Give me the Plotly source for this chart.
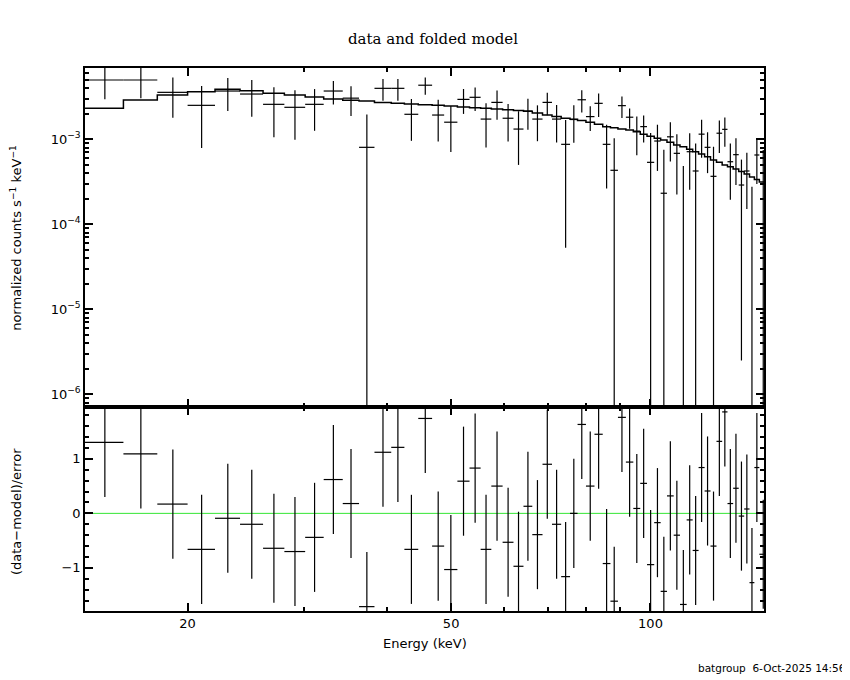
import plotly.graph_objects as go

# channel boundaries (keV)
edges = [14.0, 16.0, 18.0, 20.0, 22.0, 24.0, 26.0, 28.0, 30.1, 32.1,
         34.3, 36.3, 38.3, 40.6, 42.5, 44.6, 46.8, 48.8, 51.1, 53.3,
         55.4, 57.5, 59.8, 62.1, 64.3, 66.3, 68.7, 71.0, 73.3, 75.6,
         77.6, 79.9, 82.3, 84.7, 87.0, 89.3, 91.8, 94.2, 96.5, 98.8,
         101.3, 103.6, 105.9, 108.4, 110.8, 113.4, 115.8, 118.2, 120.7, 123.2,
         125.8, 128.3, 130.7, 133.3, 135.9, 138.5, 141.1, 143.5, 146.0, 150.0]

# normalized counts s^-1 keV^-1
rate = [4.99e-3, 4.99e-3, 3.57e-3, 2.51e-3, 3.70e-3, 3.41e-3, 2.58e-3, 2.38e-3, 2.58e-3, 3.70e-3,
        3.05e-3, 8.05e-4, 3.98e-3, 3.98e-3, 1.97e-3, 4.33e-3, 1.93e-3, 1.59e-3, 2.95e-3, 3.12e-3,
        1.73e-3, 2.72e-3, 1.77e-3, 1.32e-3, 2.15e-3, 1.73e-3, 2.72e-3, 1.73e-3, 8.73e-4, 1.71e-3,
        2.92e-3, 1.85e-3, 2.65e-3, 8.73e-4, 4.32e-4, 2.49e-3, 1.82e-3, 1.25e-3, 1.41e-3, 5.36e-4,
        9.55e-4, 2.32e-4, 1.07e-3, 6.84e-4, -1.5e-5, 7.15e-4, 4.24e-4, 1.15e-3, 8.05e-4, 3.67e-4,
        1.18e-3, 1.31e-3, 5.45e-4, 6.60e-4, 2.90e-4, 4.24e-4, -3.0e-5, 6.54e-4, -9.8e-4]

rate_err = [2.03e-3, 1.95e-3, 1.78e-3, 1.72e-3, 1.55e-3, 1.57e-3, 1.52e-3, 1.39e-3, 1.32e-3, 1.14e-3,
            1.17e-3, 1.16e-3, 1.14e-3, 1.14e-3, 1.01e-3, 9.9e-4, 9.9e-4, 8.8e-4, 9.6e-4, 9.6e-4,
            9.3e-4, 1.02e-3, 8.3e-4, 8.2e-4, 8.5e-4, 7.8e-4, 8.0e-4, 8.1e-4, 8.2e-4, 8.0e-4,
            8.5e-4, 6.0e-4, 8.2e-4, 6.1e-4, 5.95e-4, 7.1e-4, 4.9e-4, 6.0e-4, 4.9e-4, 6.5e-4,
            5.3e-4, 5.2e-4, 5.2e-4, 4.6e-4, 5.0e-4, 4.6e-4, 4.7e-4, 5.45e-4, 4.05e-4, 4.5e-4,
            4.9e-4, 4.9e-4, 3.5e-4, 3.7e-4, 2.875e-4, 2.73e-4, 3.07e-4, 3.55e-4, 1.73e-3]

# folded model per channel
model = [2.32e-3, 2.90e-3, 3.32e-3, 3.63e-3, 3.88e-3, 3.73e-3, 3.48e-3, 3.32e-3, 3.15e-3, 2.98e-3,
         2.88e-3, 2.82e-3, 2.72e-3, 2.65e-3, 2.60e-3, 2.55e-3, 2.51e-3, 2.47e-3, 2.40e-3, 2.35e-3,
         2.32e-3, 2.27e-3, 2.23e-3, 2.18e-3, 2.14e-3, 2.04e-3, 1.93e-3, 1.85e-3, 1.77e-3, 1.72e-3,
         1.66e-3, 1.59e-3, 1.50e-3, 1.41e-3, 1.37e-3, 1.32e-3, 1.29e-3, 1.23e-3, 1.15e-3, 1.09e-3,
         1.03e-3, 9.81e-4, 9.22e-4, 8.57e-4, 8.18e-4, 7.63e-4, 7.15e-4, 6.71e-4, 6.24e-4, 5.71e-4,
         5.36e-4, 4.98e-4, 4.76e-4, 4.47e-4, 4.18e-4, 3.91e-4, 3.60e-4, 3.37e-4, 3.15e-4]

# (data-model)/error
delchi = [1.30, 1.09, 0.17, -0.66, -0.09, -0.20, -0.64, -0.70, -0.44, 0.62,
          0.18, -1.71, 1.12, 1.21, -0.66, 1.74, -0.60, -1.03, 0.59, 0.83,
          -0.66, 0.50, -0.53, -0.97, 0.13, -0.39, 0.90, -0.20, -1.16, 0.00,
          1.63, 0.50, 1.45, -0.92, -1.61, 1.76, 0.94, 0.09, 0.55, -0.94,
          -0.17, -1.43, 0.32, -0.40, -1.67, -0.12, -0.68, 0.84, 0.41, -0.60,
          1.32, 1.86, 0.18, 0.46, -0.05, 0.08, -1.27, 0.84, -0.75]

lo = edges[:-1]
hi = edges[1:]


def crosses(values, errors, floor=None):
    # horizontal bin width + vertical error bar for each channel
    xs, ys = [], []
    for a, b, v, e in zip(lo, hi, values, errors):
        c = 0.5 * (a + b)
        if floor is None or v > 0:
            xs += [a, b, None]
            ys += [v, v, None]
        bottom = v - e
        if floor is not None:
            bottom = max(bottom, floor)
        xs += [c, c, None]
        ys += [bottom, v + e, None]
    return xs, ys


tx, ty = crosses(rate, rate_err, floor=1e-7)
bx, by = crosses(delchi, [1.0] * len(delchi))

fig = go.Figure()
fig.add_trace(go.Scatter(x=tx, y=ty, mode="lines", line=dict(color="black", width=1.2),
                         xaxis="x", yaxis="y", hoverinfo="skip"))
fig.add_trace(go.Scatter(x=edges, y=model + [model[-1]], mode="lines", line_shape="hv",
                         line=dict(color="black", width=1.5), xaxis="x", yaxis="y"))
fig.add_trace(go.Scatter(x=[edges[0], edges[-1]], y=[0, 0], mode="lines",
                         line=dict(color="#33e633", width=1), xaxis="x2", yaxis="y2"))
fig.add_trace(go.Scatter(x=bx, y=by, mode="lines", line=dict(color="black", width=1.2),
                         xaxis="x2", yaxis="y2", hoverinfo="skip"))

font = dict(family="DejaVu Sans", size=13, color="black")
split = 0.3757
xrange = [1.1461, 2.1714]
xminor = [30, 40, 60, 70, 80, 90]

axis_common = dict(showline=True, linecolor="black", linewidth=1.5, mirror="ticks",
                   ticks="inside", tickcolor="black", tickwidth=1.5, showgrid=False,
                   zeroline=False, tickfont=font)

fig.update_layout(
    width=850, height=680,
    # page body adds an 8px offset, so margins are set to land the frame where the reference has it
    margin=dict(l=77, r=94, t=60, b=77),
    paper_bgcolor="white", plot_bgcolor="white",
    showlegend=False,
    title=dict(text="data and folded model", x=0.5, xanchor="center", y=0.955, yanchor="middle",
               font=dict(family="DejaVu Serif", size=15, color="black")),
    xaxis=dict(type="log", range=xrange, domain=[0, 1], anchor="y", showticklabels=False,
               tickvals=[20, 50, 100], ticklen=8,
               minor=dict(tickvals=xminor, ticks="inside", ticklen=4, tickcolor="black"),
               **axis_common),
    yaxis=dict(type="log", range=[-6.149, -2.161], domain=[split, 1], anchor="x",
               tickvals=[1e-6, 1e-5, 1e-4, 1e-3],
               ticktext=["10<sup>\u22126</sup>", "10<sup>\u22125</sup>",
                         "10<sup>\u22124</sup>", "10<sup>\u22123</sup>"],
               ticklen=8,
               minor=dict(tickvals=[m * 10.0 ** p for p in range(-7, -2) for m in range(2, 10)],
                          ticks="inside", ticklen=4, tickcolor="black"),
               **axis_common),
    xaxis2=dict(type="log", range=xrange, domain=[0, 1], anchor="y2",
                tickvals=[20, 50, 100], ticktext=["20", "50", "100"], ticklen=8,
                minor=dict(tickvals=xminor, ticks="inside", ticklen=4, tickcolor="black"),
                **axis_common),
    yaxis2=dict(range=[-1.79, 1.95], domain=[0, split], anchor="x2",
                tickvals=[-1, 0, 1], ticktext=["\u22121", "0", "1"], ticklen=8,
                minor=dict(dtick=0.2, ticks="inside", ticklen=4, tickcolor="black"),
                **axis_common),
    annotations=[
        dict(text="normalized counts s<sup>\u22121</sup> keV<sup>\u22121</sup>", textangle=-90,
             xref="paper", yref="paper", x=-0.101, y=0.688, xanchor="center", yanchor="middle",
             showarrow=False, font=font),
        dict(text="(data\u2212model)/error", textangle=-90,
             xref="paper", yref="paper", x=-0.101, y=0.183, xanchor="center", yanchor="middle",
             showarrow=False, font=font),
        dict(text="Energy (keV)", xref="paper", yref="paper", x=0.5, y=-0.059,
             xanchor="center", yanchor="middle", showarrow=False, font=font),
        dict(text="batgroup  6-Oct-2025 14:56", xref="paper", yref="paper",
             x=1.1237, y=-0.105, xanchor="right", yanchor="middle", showarrow=False,
             font=dict(family="DejaVu Sans", size=10.5, color="black")),
    ],
)

fig.write_html("out.html")
